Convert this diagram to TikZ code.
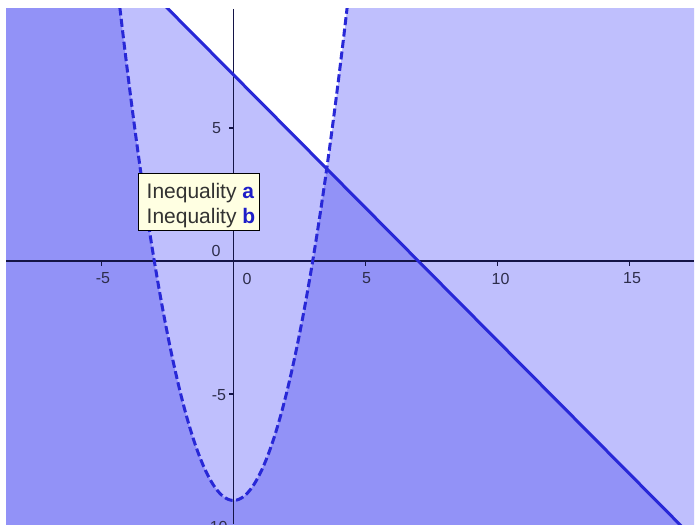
\documentclass[tikz,border=0pt]{standalone}
\usepackage{fontspec}
\setmainfont{Liberation Sans}
\begin{document}
\begin{tikzpicture}[x=1pt,y=1pt,
  ticklbl/.style={text=labelgray, inner sep=0pt, font=\fontsize{16}{19}\selectfont},
  axisline/.style={draw=axiscol, line width=1.4pt},
  tickline/.style={draw=axiscol, line width=1.2pt},
  boundline/.style={draw=curvecol, line width=3pt},
  dashline/.style={draw=curvecol, line width=3pt, dash pattern=on 8pt off 3.5pt},
  tipbox/.style={draw=black, line width=0.8pt, fill=tipfill, inner sep=0pt, minimum width=121pt, minimum height=57pt, anchor=north west},
  tiptext/.style={text=tipgray, inner sep=0pt, anchor=base west, font=\fontsize{21}{25}\selectfont}]
\definecolor{lightfill}{RGB}{191,191,253}
\definecolor{darkfill}{RGB}{146,146,247}
\definecolor{curvecol}{RGB}{40,40,215}
\definecolor{axiscol}{RGB}{20,20,70}
\definecolor{labelgray}{RGB}{45,45,75}
\definecolor{tipfill}{RGB}{255,255,226}
\definecolor{tipgray}{RGB}{50,50,50}
\definecolor{tipblue}{RGB}{30,30,200}
\useasboundingbox (0,-524) rectangle (695,0);
\fill[white] (0,-524) rectangle (695,0);
\begin{scope}
  \clip (6,-524) rectangle (694,-9);
  \begin{scope}[shift={(233.5,-261)}, x=26.4pt, y=26.6pt]
    \fill[lightfill] (-10,-12) rectangle (19,12);
    % inside parabola and above the line: white
    \begin{scope}
      \clip (-10,17) -- (19,-12) -- (19,25) -- (-10,25) -- cycle;
      \fill[white] plot[domain=-4.6:4.6, samples=120] (\x,{\x*\x-9}) -- cycle;
    \end{scope}
    % outside parabola and below the line: dark
    \begin{scope}
      \clip (-10,17) -- (19,-12) -- (19,-25) -- (-10,-25) -- cycle;
      \fill[darkfill, even odd rule] (-10,-12) rectangle (19,12)
        plot[domain=-4.6:4.6, samples=120] (\x,{\x*\x-9}) -- cycle;
    \end{scope}
  \end{scope}
  % axes
  \draw[axisline] (6,-261) -- (694,-261);
  \draw[axisline] (233.5,-9) -- (233.5,-524);
  % x ticks
  \foreach \t in {-5,5,10,15} {
    \draw[tickline] ({233.5+26.4*\t},-261) -- ({233.5+26.4*\t},-265.5);
  }
  % y ticks
  \foreach \t in {5,-5,-10} {
    \draw[tickline] (233.5,{-261+26.6*\t}) -- (229,{-261+26.6*\t});
  }
  \begin{scope}[shift={(233.5,-261)}, x=26.4pt, y=26.6pt]
    \draw[dashline] plot[domain=-4.5:4.5, samples=200] (\x,{\x*\x-9});
    \draw[boundline] (-3.2,10.2) -- (18,-11);
  \end{scope}
\end{scope}
% tick labels
\node[ticklbl] (xm5) at (103,-278.5) {-5};
\node[ticklbl] (x0) at (247,-278.5) {0};
\node[ticklbl] (x5) at (366.5,-278.5) {5};
\node[ticklbl] (x10) at (500.5,-278.5) {10};
\node[ticklbl] (x15) at (632,-278.5) {15};
\node[ticklbl] (y5) at (216.5,-128.5) {5};
\node[ticklbl] (y0) at (216,-251) {0};
\node[ticklbl] (ym5) at (219,-395.5) {-5};
\node[ticklbl] (ym10) at (216,-527) {-10};
% tooltip
\node[tipbox] (tip) at (138,-173) {};
\node[tiptext] (tipa) at (146.5,-198) {Inequality \textcolor{tipblue}{\bfseries a}};
\node[tiptext] (tipb) at (146.5,-223) {Inequality \textcolor{tipblue}{\bfseries b}};
\end{tikzpicture}
\end{document}
